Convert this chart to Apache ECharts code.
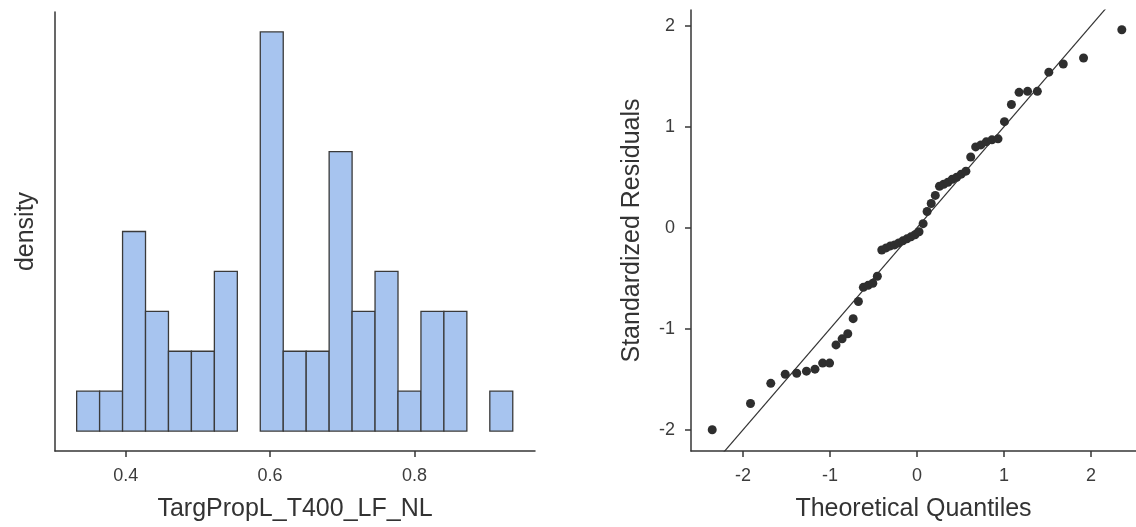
<!DOCTYPE html>
<html>
<head>
<meta charset="utf-8">
<script src="https://cdn.jsdelivr.net/npm/echarts@6/dist/echarts.min.js"></script>
<style>
html,body{margin:0;padding:0;background:#fff;}
#chart{width:1136px;height:527px;}
</style>
</head>
<body>
<div id="chart"></div>
<script>
// ---- Histogram data (counts per bin, drawn as density shape) ----
const histBinStart = 0.332;
const histBinWidth = 0.0318;
const histCounts = [1, 1, 5, 3, 2, 2, 4, 0, 10, 2, 2, 7, 3, 4, 1, 3, 3, 0, 1];
const histTicks = [0.4, 0.6, 0.8];

// ---- Q-Q plot data ----
const qqTheoretical = [
  -2.354, -1.914, -1.681, -1.515, -1.383, -1.271, -1.173, -1.085, -1.005, -0.931,
  -0.861, -0.796, -0.734, -0.674, -0.617, -0.562, -0.508, -0.456, -0.405, -0.355,
  -0.306, -0.258, -0.210, -0.163, -0.116, -0.070, -0.023, 0.023, 0.070, 0.116,
  0.163, 0.210, 0.258, 0.306, 0.355, 0.405, 0.456, 0.508, 0.562, 0.617,
  0.674, 0.734, 0.796, 0.861, 0.931, 1.005, 1.085, 1.173, 1.271, 1.383,
  1.515, 1.681, 1.914, 2.354
];
const qqResiduals = [
  -2.00, -1.74, -1.54, -1.45, -1.44, -1.42, -1.40, -1.34, -1.34, -1.16,
  -1.10, -1.05, -0.90, -0.73, -0.59, -0.57, -0.55, -0.48, -0.22, -0.20,
  -0.18, -0.17, -0.15, -0.13, -0.11, -0.09, -0.07, -0.04, 0.04, 0.16,
  0.24, 0.32, 0.41, 0.43, 0.45, 0.48, 0.50, 0.53, 0.56, 0.70,
  0.80, 0.82, 0.85, 0.87, 0.88, 1.05, 1.22, 1.34, 1.35, 1.35,
  1.54, 1.62, 1.68, 1.96
];
const qqTicks = [-2, -1, 0, 1, 2];
const refLineX = [-3, 3];
const refLineY = [-3, 3];

const histData = histCounts.map((c, i) => [
  histBinStart + i * histBinWidth,
  histBinStart + (i + 1) * histBinWidth,
  c
]);
const qqData = qqTheoretical.map((x, i) => [x, qqResiduals[i]]);
const refData = refLineX.map((x, i) => [x, refLineY[i]]);

const FONT = '"Liberation Sans", Arial, Helvetica, sans-serif';
const AX = '#363636';
const axisLine = {show: true, onZero: false, lineStyle: {color: AX, width: 1.5}};
const tickStyle = {lineStyle: {color: AX, width: 1.5}, length: 6};
const labelStyle = {color: '#3c3c3c', fontSize: 18, fontFamily: FONT};
const nameStyle = {color: '#333', fontSize: 25, fontFamily: FONT};

const chart = echarts.init(document.getElementById('chart'), null, {renderer: 'canvas'});
chart.setOption({
  backgroundColor: '#fff',
  animation: false,
  grid: [
    {left: 55, width: 480, top: 12, bottom: 76},
    {left: 691, width: 445, top: 10, bottom: 76}
  ],
  xAxis: [
    {
      gridIndex: 0, type: 'value', min: 0.302, max: 0.967,
      name: 'TargPropL_T400_LF_NL', nameLocation: 'middle', nameGap: 46,
      nameTextStyle: nameStyle,
      axisLine: axisLine,
      axisTick: Object.assign({show: true, customValues: histTicks}, tickStyle),
      axisLabel: Object.assign({show: true, customValues: histTicks, margin: 16,
        formatter: v => v.toFixed(1)}, labelStyle),
      splitLine: {show: false}
    },
    {
      gridIndex: 1, type: 'value', min: -2.598, max: 2.517,
      name: 'Theoretical Quantiles', nameLocation: 'middle', nameGap: 46,
      nameTextStyle: nameStyle,
      axisLine: axisLine,
      axisTick: Object.assign({show: true, customValues: qqTicks}, tickStyle),
      axisLabel: Object.assign({show: true, customValues: qqTicks, margin: 16}, labelStyle),
      splitLine: {show: false}
    }
  ],
  yAxis: [
    {
      gridIndex: 0, type: 'value', min: -0.5, max: 10.5,
      name: 'density', nameLocation: 'middle', nameGap: 16,
      nameTextStyle: nameStyle,
      axisLine: axisLine,
      axisTick: {show: false},
      axisLabel: {show: false},
      splitLine: {show: false}
    },
    {
      gridIndex: 1, type: 'value', min: -2.21, max: 2.155,
      name: 'Standardized Residuals', nameLocation: 'middle', nameGap: 46,
      nameTextStyle: nameStyle,
      axisLine: axisLine,
      axisTick: Object.assign({show: true, customValues: qqTicks}, tickStyle),
      axisLabel: Object.assign({show: true, customValues: qqTicks, margin: 16}, labelStyle),
      splitLine: {show: false}
    }
  ],
  series: [
    {
      type: 'custom',
      xAxisIndex: 0, yAxisIndex: 0,
      data: histData,
      encode: {x: [0, 1], y: 2},
      renderItem: function (params, api) {
        const lo = api.value(0), hi = api.value(1), c = api.value(2);
        if (!c) return null;
        const p0 = api.coord([lo, c]);
        const p1 = api.coord([hi, 0]);
        return {
          type: 'rect',
          shape: {x: p0[0], y: p0[1], width: p1[0] - p0[0], height: p1[1] - p0[1]},
          style: {fill: '#a7c4ef', stroke: '#3a3a3a', lineWidth: 1.3}
        };
      }
    },
    {
      type: 'line',
      xAxisIndex: 1, yAxisIndex: 1,
      data: refData,
      showSymbol: false,
      clip: true,
      lineStyle: {color: '#333', width: 1.2},
      z: 1
    },
    {
      type: 'scatter',
      xAxisIndex: 1, yAxisIndex: 1,
      data: qqData,
      symbolSize: 9,
      itemStyle: {color: '#2e2e2e', opacity: 1},
      z: 2
    }
  ]
});
</script>
</body>
</html>
